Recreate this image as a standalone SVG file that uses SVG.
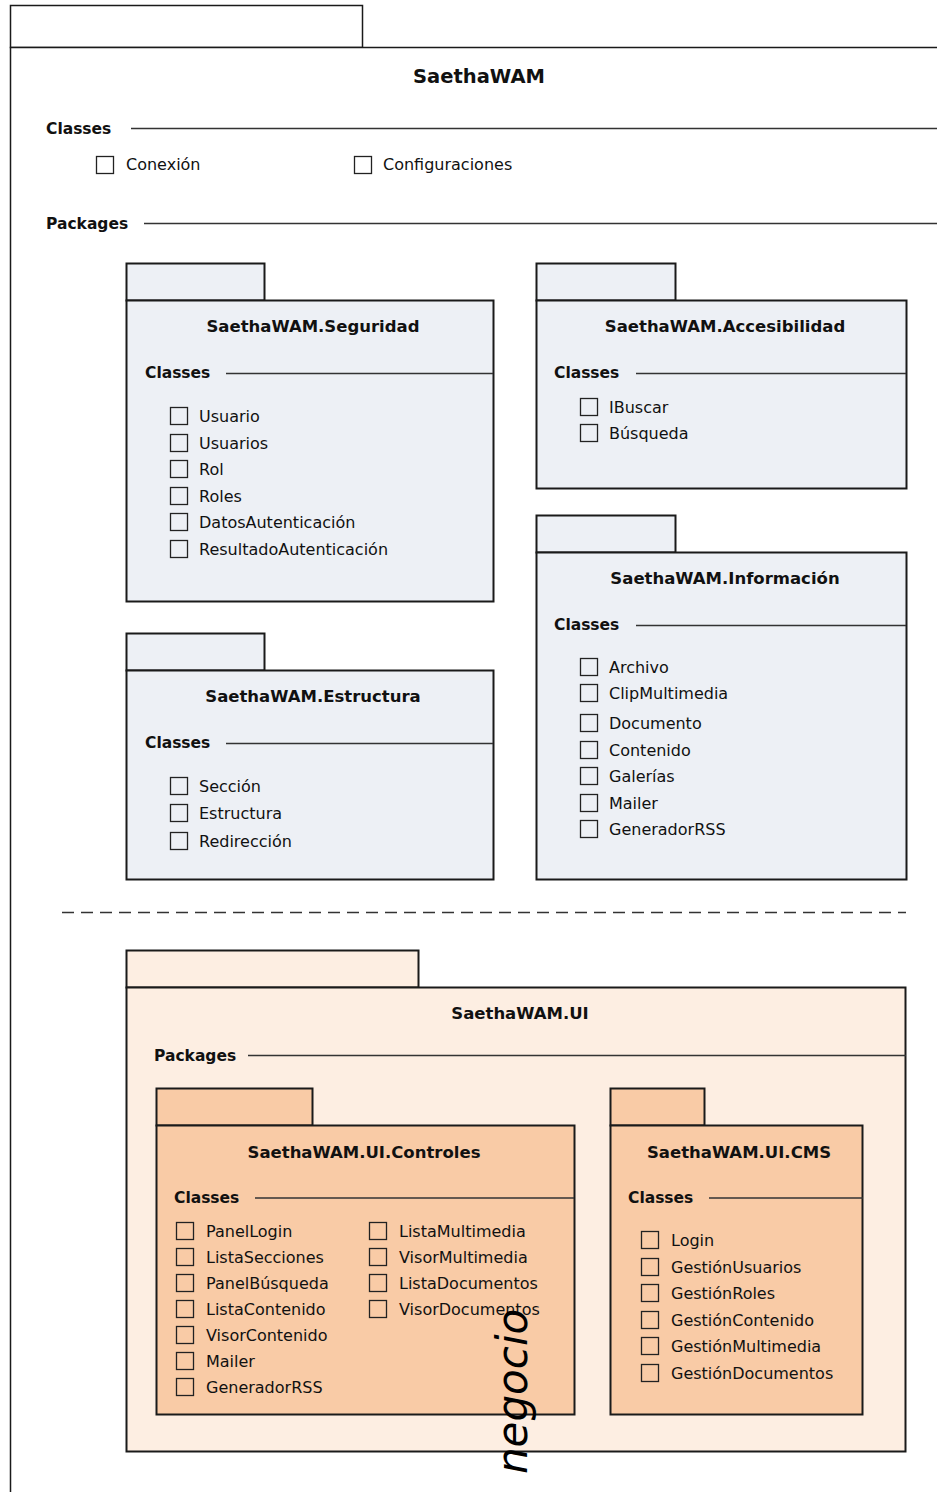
<svg xmlns="http://www.w3.org/2000/svg" width="937" height="1492" viewBox="0 0 937 1492">
<style>
.frame{fill:#fff;stroke:#1a1a1a;stroke-width:1.5}
.pk{stroke:#1a1a1a;stroke-width:2}
.blue{fill:#edf0f5}
.light{fill:#fdeee2}
.peach{fill:#f9cba6}
.sep{stroke:#333;stroke-width:1.5;fill:none}
.cb{fill:none;stroke:#222;stroke-width:1.3}
.title{font-family:"DejaVu Sans",sans-serif;font-weight:bold;font-size:16.5px;fill:#111;text-anchor:middle}
.main{font-family:"DejaVu Sans",sans-serif;font-weight:bold;font-size:19.5px;fill:#111;text-anchor:middle}
.sec{font-family:"DejaVu Sans",sans-serif;font-weight:bold;font-size:15.5px;fill:#111}
.it{font-family:"DejaVu Sans",sans-serif;font-size:16px;fill:#111}
.dash{stroke:#333;stroke-width:1.5;stroke-dasharray:12 7;fill:none}
.neg{font-family:"DejaVu Sans",sans-serif;font-style:italic;font-size:42px;fill:#000}
</style>

<g id="SaethaWAM">
<rect class="frame" x="10.5" y="5.5" width="352" height="42"/>
<rect class="frame" x="10.5" y="47.5" width="1000" height="1500"/>
<text class="main" x="479" y="83">SaethaWAM</text>
<text class="sec" x="46" y="134">Classes</text>
<line class="sep" x1="131" y1="128.5" x2="940" y2="128.5"/>
<rect class="cb" x="96.5" y="156.5" width="17" height="17"/><text class="it" x="126" y="170">Conexión</text>
<rect class="cb" x="354.5" y="156.5" width="17" height="17"/><text class="it" x="383" y="170">Configuraciones</text>
<text class="sec" x="46" y="229">Packages</text>
<line class="sep" x1="144" y1="223.5" x2="940" y2="223.5"/>
</g>

<g id="Seguridad">
<rect class="pk blue" x="126.5" y="263.5" width="138" height="37"/>
<rect class="pk blue" x="126.5" y="300.5" width="367" height="301"/>
<text class="title" x="313" y="332">SaethaWAM.Seguridad</text>
<text class="sec" x="145" y="378">Classes</text>
<line class="sep" x1="226" y1="373.5" x2="493" y2="373.5"/>
<rect class="cb" x="170.5" y="407.5" width="17" height="17"/><text class="it" x="199" y="421.5">Usuario</text>
<rect class="cb" x="170.5" y="434.5" width="17" height="17"/><text class="it" x="199" y="448.5">Usuarios</text>
<rect class="cb" x="170.5" y="460.5" width="17" height="17"/><text class="it" x="199" y="474.5">Rol</text>
<rect class="cb" x="170.5" y="487.5" width="17" height="17"/><text class="it" x="199" y="501.5">Roles</text>
<rect class="cb" x="170.5" y="513.5" width="17" height="17"/><text class="it" x="199" y="527.5">DatosAutenticación</text>
<rect class="cb" x="170.5" y="540.5" width="17" height="17"/><text class="it" x="199" y="554.5">ResultadoAutenticación</text>
</g>

<g id="Accesibilidad">
<rect class="pk blue" x="536.5" y="263.5" width="139" height="37"/>
<rect class="pk blue" x="536.5" y="300.5" width="370" height="188"/>
<text class="title" x="725" y="332">SaethaWAM.Accesibilidad</text>
<text class="sec" x="554" y="378">Classes</text>
<line class="sep" x1="636" y1="373.5" x2="906" y2="373.5"/>
<rect class="cb" x="580.5" y="398.5" width="17" height="17"/><text class="it" x="609" y="412.5">IBuscar</text>
<rect class="cb" x="580.5" y="424.5" width="17" height="17"/><text class="it" x="609" y="438.5">Búsqueda</text>
</g>

<g id="Informacion">
<rect class="pk blue" x="536.5" y="515.5" width="139" height="37"/>
<rect class="pk blue" x="536.5" y="552.5" width="370" height="327"/>
<text class="title" x="725" y="584">SaethaWAM.Información</text>
<text class="sec" x="554" y="630">Classes</text>
<line class="sep" x1="636" y1="625.5" x2="906" y2="625.5"/>
<rect class="cb" x="580.5" y="658.5" width="17" height="17"/><text class="it" x="609" y="672.5">Archivo</text>
<rect class="cb" x="580.5" y="684.5" width="17" height="17"/><text class="it" x="609" y="698.5">ClipMultimedia</text>
<rect class="cb" x="580.5" y="714.5" width="17" height="17"/><text class="it" x="609" y="728.5">Documento</text>
<rect class="cb" x="580.5" y="741.5" width="17" height="17"/><text class="it" x="609" y="755.5">Contenido</text>
<rect class="cb" x="580.5" y="767.5" width="17" height="17"/><text class="it" x="609" y="781.5">Galerías</text>
<rect class="cb" x="580.5" y="794.5" width="17" height="17"/><text class="it" x="609" y="808.5">Mailer</text>
<rect class="cb" x="580.5" y="820.5" width="17" height="17"/><text class="it" x="609" y="834.5">GeneradorRSS</text>
</g>

<g id="Estructura">
<rect class="pk blue" x="126.5" y="633.5" width="138" height="37"/>
<rect class="pk blue" x="126.5" y="670.5" width="367" height="209"/>
<text class="title" x="313" y="702">SaethaWAM.Estructura</text>
<text class="sec" x="145" y="748">Classes</text>
<line class="sep" x1="226" y1="743.5" x2="493" y2="743.5"/>
<rect class="cb" x="170.5" y="777.5" width="17" height="17"/><text class="it" x="199" y="791.5">Sección</text>
<rect class="cb" x="170.5" y="804.5" width="17" height="17"/><text class="it" x="199" y="818.5">Estructura</text>
<rect class="cb" x="170.5" y="832.5" width="17" height="17"/><text class="it" x="199" y="846.5">Redirección</text>
</g>

<g id="separator">
<line class="dash" x1="62" y1="912.5" x2="906" y2="912.5"/>
</g>

<g id="UI">
<rect class="pk light" x="126.5" y="950.5" width="292" height="37"/>
<rect class="pk light" x="126.5" y="987.5" width="779" height="464"/>
<text class="title" x="520" y="1019">SaethaWAM.UI</text>
<text class="sec" x="154" y="1061">Packages</text>
<line class="sep" x1="248" y1="1055.5" x2="906" y2="1055.5"/>
</g>

<g id="Controles">
<rect class="pk peach" x="156.5" y="1088.5" width="156" height="37"/>
<rect class="pk peach" x="156.5" y="1125.5" width="418" height="289"/>
<text class="title" x="364" y="1158">SaethaWAM.UI.Controles</text>
<text class="sec" x="174" y="1203">Classes</text>
<line class="sep" x1="255" y1="1198" x2="574" y2="1198"/>
<rect class="cb" x="176.5" y="1222.5" width="17" height="17"/><text class="it" x="206" y="1236.5">PanelLogin</text>
<rect class="cb" x="176.5" y="1248.5" width="17" height="17"/><text class="it" x="206" y="1262.5">ListaSecciones</text>
<rect class="cb" x="176.5" y="1274.5" width="17" height="17"/><text class="it" x="206" y="1288.5">PanelBúsqueda</text>
<rect class="cb" x="176.5" y="1300.5" width="17" height="17"/><text class="it" x="206" y="1314.5">ListaContenido</text>
<rect class="cb" x="176.5" y="1326.5" width="17" height="17"/><text class="it" x="206" y="1340.5">VisorContenido</text>
<rect class="cb" x="176.5" y="1352.5" width="17" height="17"/><text class="it" x="206" y="1366.5">Mailer</text>
<rect class="cb" x="176.5" y="1378.5" width="17" height="17"/><text class="it" x="206" y="1392.5">GeneradorRSS</text>
<rect class="cb" x="369.5" y="1222.5" width="17" height="17"/><text class="it" x="399" y="1236.5">ListaMultimedia</text>
<rect class="cb" x="369.5" y="1248.5" width="17" height="17"/><text class="it" x="399" y="1262.5">VisorMultimedia</text>
<rect class="cb" x="369.5" y="1274.5" width="17" height="17"/><text class="it" x="399" y="1288.5">ListaDocumentos</text>
<rect class="cb" x="369.5" y="1300.5" width="17" height="17"/><text class="it" x="399" y="1314.5">VisorDocumentos</text>
</g>

<g id="CMS">
<rect class="pk peach" x="610.5" y="1088.5" width="94" height="37"/>
<rect class="pk peach" x="610.5" y="1125.5" width="252" height="289"/>
<text class="title" x="739" y="1158">SaethaWAM.UI.CMS</text>
<text class="sec" x="628" y="1203">Classes</text>
<line class="sep" x1="709" y1="1198" x2="863" y2="1198"/>
<rect class="cb" x="641.5" y="1231.5" width="17" height="17"/><text class="it" x="671" y="1245.5">Login</text>
<rect class="cb" x="641.5" y="1258.5" width="17" height="17"/><text class="it" x="671" y="1272.5">GestiónUsuarios</text>
<rect class="cb" x="641.5" y="1284.5" width="17" height="17"/><text class="it" x="671" y="1298.5">GestiónRoles</text>
<rect class="cb" x="641.5" y="1311.5" width="17" height="17"/><text class="it" x="671" y="1325.5">GestiónContenido</text>
<rect class="cb" x="641.5" y="1337.5" width="17" height="17"/><text class="it" x="671" y="1351.5">GestiónMultimedia</text>
<rect class="cb" x="641.5" y="1364.5" width="17" height="17"/><text class="it" x="671" y="1378.5">GestiónDocumentos</text>
</g>

<g id="connectors"></g>

<g id="label-negocio">
<text class="neg" transform="translate(527,1474) rotate(-90)">negocio</text>
</g>
</svg>
